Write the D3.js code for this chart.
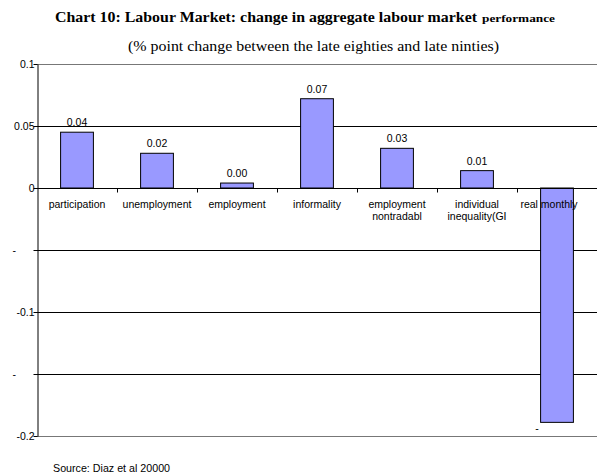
<!DOCTYPE html>
<html>
<head>
<meta charset="utf-8">
<script src="https://cdn.jsdelivr.net/npm/d3@7"></script>
<style>
  body { margin: 0; background: #fff; }
  svg text { font-family: "Liberation Sans", Arial, sans-serif; }
  .serif { font-family: "Liberation Serif", "Times New Roman", serif !important; }
</style>
</head>
<body>
<svg id="chart" width="597" height="475"></svg>
<script>
// categories, wrapped label lines and values
const categories = ["participation", "unemployment", "employment", "informality",
  "employment nontradabl", "individual inequality(GI", "real monthly"];
const catLines = [["participation"], ["unemployment"], ["employment"], ["informality"],
  ["employment", "nontradabl"], ["individual", "inequality(GI"], ["real monthly"]];
const values = [0.045, 0.028, 0.004, 0.072, 0.032, 0.014, -0.189];
const valueLabels = ["0.04", "0.02", "0.00", "0.07", "0.03", "0.01", "-"];
const yTicks = [0.1, 0.05, 0, -0.05, -0.1, -0.15, -0.2];
const yTickLabels = ["0.1", "0.05", "0", "-", "-0.1", "-", "-0.2"];

const svg = d3.select("#chart");
const margin = {left: 37, right: 0, top: 64, bottom: 39};
const W = 597, H = 475;

const x = d3.scaleBand()
  .domain(categories)
  .range([margin.left, W - margin.right])
  .paddingInner(0.59)
  .paddingOuter(0.295);

const y = d3.scaleLinear()
  .domain([-0.2, 0.1])
  .range([H - margin.bottom, margin.top]);

// titles
svg.append("text")
  .attr("class", "serif")
  .attr("x", 55)
  .attr("y", 22)
  .attr("font-weight", "bold")
  .attr("font-size", "14px")
  .attr("textLength", 422)
  .attr("lengthAdjust", "spacingAndGlyphs")
  .text("Chart 10: Labour Market: change in aggregate labour market");
svg.append("text")
  .attr("class", "serif")
  .attr("x", 482)
  .attr("y", 22)
  .attr("font-weight", "bold")
  .attr("font-size", "11px")
  .attr("textLength", 73)
  .attr("lengthAdjust", "spacingAndGlyphs")
  .text("performance");

svg.append("text")
  .attr("class", "serif")
  .attr("x", 128)
  .attr("y", 51)
  .attr("font-size", "15px")
  .attr("textLength", 371)
  .attr("lengthAdjust", "spacingAndGlyphs")
  .text("(% point change between the late eighties and late ninties)");

// gridlines
svg.append("g").selectAll("line")
  .data(yTicks.filter(d => d !== 0))
  .join("line")
  .attr("x1", margin.left)
  .attr("x2", W)
  .attr("y1", d => Math.round(y(d)) + 0.5)
  .attr("y2", d => Math.round(y(d)) + 0.5)
  .attr("stroke", d => (d === 0.1 || d === -0.2) ? "#777" : "#000")
  .attr("stroke-width", 1);

// y axis
const yAxis = svg.append("g")
  .attr("transform", `translate(${margin.left + 0.5},0)`)
  .call(d3.axisLeft(y).tickValues(yTicks).tickSize(4).tickSizeOuter(0)
    .tickFormat((d, i) => yTickLabels[i]));
yAxis.select(".domain").attr("stroke", "#000");
yAxis.selectAll(".tick line").attr("stroke", "#000");
yAxis.selectAll(".tick text")
  .attr("font-size", "10.5px")
  .attr("fill", "#000")
  .attr("x", -3)
  .each(function(d, i) {
    if (yTickLabels[i] === "-") d3.select(this).attr("text-anchor", "start").attr("x", -25);
  });

// bars
svg.append("g").selectAll("rect")
  .data(values)
  .join("rect")
  .attr("x", (d, i) => x(categories[i]))
  .attr("y", d => y(Math.max(0, d)))
  .attr("width", x.bandwidth())
  .attr("height", d => Math.abs(y(d) - y(0)))
  .attr("fill", "#9999ff")
  .attr("stroke", "#000")
  .attr("stroke-width", 1);

// category axis at zero
const zeroY = Math.round(y(0)) + 0.5;
svg.append("line")
  .attr("x1", margin.left).attr("x2", W)
  .attr("y1", zeroY).attr("y2", zeroY)
  .attr("stroke", "#000");
svg.append("g").selectAll("line")
  .data(d3.range(1, categories.length))
  .join("line")
  .attr("x1", i => Math.round(margin.left + i * x.step()) + 0.5)
  .attr("x2", i => Math.round(margin.left + i * x.step()) + 0.5)
  .attr("y1", zeroY)
  .attr("y2", zeroY + 4)
  .attr("stroke", "#000");

// category labels
svg.append("g").selectAll("text")
  .data(categories)
  .join("text")
  .attr("y", zeroY + 19)
  .attr("text-anchor", "middle")
  .attr("font-size", "10.5px")
  .attr("fill", "#000")
  .each(function(d, i) {
    d3.select(this).selectAll("tspan")
      .data(catLines[i])
      .join("tspan")
      .attr("x", x(d) + x.bandwidth() / 2 + (i === 6 ? -8 : 0))
      .attr("dy", (t, j) => j === 0 ? 0 : 12)
      .text(t => t);
  });

// value labels
svg.append("g").selectAll("text")
  .data(values)
  .join("text")
  .attr("x", (d, i) => x(categories[i]) + x.bandwidth() / 2 + (d < 0 ? -20 : 0))
  .attr("y", d => d >= 0 ? y(d) - 6 : y(d) + 10)
  .attr("text-anchor", "middle")
  .attr("font-size", "10.5px")
  .attr("fill", "#000")
  .text((d, i) => valueLabels[i]);

// source
svg.append("text")
  .attr("x", 53)
  .attr("y", 472)
  .attr("font-size", "10.7px")
  .attr("fill", "#000")
  .text("Source: Diaz et al 20000");
</script>
</body>
</html>
